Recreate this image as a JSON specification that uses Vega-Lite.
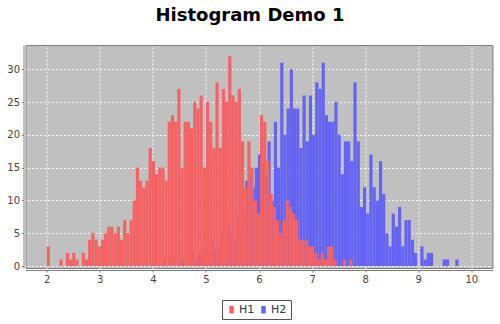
{
  "$schema": "https://vega.github.io/schema/vega-lite/v6.json",
  "width": 467,
  "height": 223,
  "autosize": {"type": "none"},
  "padding": {"left": 25.5, "top": 45, "right": 7.5, "bottom": 56},
  "background": "white",
  "title": {"text": "Histogram Demo 1", "font": "DejaVu Sans", "fontSize": 18, "fontWeight": "bold", "color": "black", "anchor": "middle", "dx": -9, "offset": 20},
  "config": {
    "view": {"fill": "#c0c0c0", "stroke": "#808080", "strokeWidth": 1},
    "axis": {"domainColor": "#808080", "tickColor": "#808080", "tickSize": 2, "labelColor": "#444444", "labelFont": "DejaVu Sans", "labelFontSize": 10, "gridColor": "#ffffff", "gridDash": [2, 2], "gridWidth": 1, "gridOpacity": 0.9, "title": null, "offset": 2, "labelPadding": 2}
  },
  "datasets": {
    "h1": [
      {"s":"H1","lo":2.00,"hi":2.06,"n":3},{"s":"H1","lo":2.24,"hi":2.30,"n":1},{"s":"H1","lo":2.36,"hi":2.42,"n":2},{"s":"H1","lo":2.42,"hi":2.48,"n":1},
      {"s":"H1","lo":2.48,"hi":2.54,"n":2},{"s":"H1","lo":2.54,"hi":2.60,"n":1},{"s":"H1","lo":2.66,"hi":2.72,"n":2},{"s":"H1","lo":2.72,"hi":2.78,"n":1},
      {"s":"H1","lo":2.78,"hi":2.84,"n":4},{"s":"H1","lo":2.84,"hi":2.90,"n":5},{"s":"H1","lo":2.90,"hi":2.96,"n":4},{"s":"H1","lo":2.96,"hi":3.02,"n":3},
      {"s":"H1","lo":3.02,"hi":3.08,"n":4},{"s":"H1","lo":3.08,"hi":3.14,"n":5},{"s":"H1","lo":3.14,"hi":3.20,"n":6},{"s":"H1","lo":3.20,"hi":3.26,"n":6},
      {"s":"H1","lo":3.26,"hi":3.32,"n":5},{"s":"H1","lo":3.32,"hi":3.38,"n":6},{"s":"H1","lo":3.38,"hi":3.44,"n":4},{"s":"H1","lo":3.44,"hi":3.50,"n":7},
      {"s":"H1","lo":3.50,"hi":3.56,"n":5},{"s":"H1","lo":3.56,"hi":3.62,"n":7},{"s":"H1","lo":3.62,"hi":3.68,"n":10},{"s":"H1","lo":3.68,"hi":3.74,"n":15},
      {"s":"H1","lo":3.74,"hi":3.80,"n":13},{"s":"H1","lo":3.80,"hi":3.86,"n":12},{"s":"H1","lo":3.86,"hi":3.92,"n":13},{"s":"H1","lo":3.92,"hi":3.98,"n":18},
      {"s":"H1","lo":3.98,"hi":4.04,"n":16},{"s":"H1","lo":4.04,"hi":4.10,"n":14},{"s":"H1","lo":4.10,"hi":4.16,"n":15},{"s":"H1","lo":4.16,"hi":4.22,"n":15},
      {"s":"H1","lo":4.22,"hi":4.28,"n":13},{"s":"H1","lo":4.28,"hi":4.34,"n":22},{"s":"H1","lo":4.34,"hi":4.40,"n":23},{"s":"H1","lo":4.40,"hi":4.46,"n":22},
      {"s":"H1","lo":4.46,"hi":4.52,"n":27},{"s":"H1","lo":4.52,"hi":4.58,"n":15},{"s":"H1","lo":4.58,"hi":4.64,"n":22},{"s":"H1","lo":4.64,"hi":4.70,"n":22},
      {"s":"H1","lo":4.70,"hi":4.76,"n":21},{"s":"H1","lo":4.76,"hi":4.82,"n":25},{"s":"H1","lo":4.82,"hi":4.88,"n":24},{"s":"H1","lo":4.88,"hi":4.94,"n":26},
      {"s":"H1","lo":4.94,"hi":5.00,"n":15},{"s":"H1","lo":5.00,"hi":5.06,"n":25},{"s":"H1","lo":5.06,"hi":5.12,"n":22},{"s":"H1","lo":5.12,"hi":5.18,"n":18},
      {"s":"H1","lo":5.18,"hi":5.24,"n":28},{"s":"H1","lo":5.24,"hi":5.30,"n":18},{"s":"H1","lo":5.30,"hi":5.36,"n":27},{"s":"H1","lo":5.36,"hi":5.42,"n":25},
      {"s":"H1","lo":5.42,"hi":5.48,"n":32},{"s":"H1","lo":5.48,"hi":5.54,"n":26},{"s":"H1","lo":5.54,"hi":5.60,"n":25},{"s":"H1","lo":5.60,"hi":5.66,"n":27},
      {"s":"H1","lo":5.66,"hi":5.72,"n":19},{"s":"H1","lo":5.72,"hi":5.78,"n":12},{"s":"H1","lo":5.78,"hi":5.84,"n":19},{"s":"H1","lo":5.84,"hi":5.90,"n":15},
      {"s":"H1","lo":5.90,"hi":5.96,"n":10},{"s":"H1","lo":5.96,"hi":6.02,"n":8},{"s":"H1","lo":6.02,"hi":6.08,"n":23},{"s":"H1","lo":6.08,"hi":6.14,"n":22},
      {"s":"H1","lo":6.14,"hi":6.20,"n":16},{"s":"H1","lo":6.20,"hi":6.26,"n":11},{"s":"H1","lo":6.26,"hi":6.32,"n":9},{"s":"H1","lo":6.32,"hi":6.38,"n":7},
      {"s":"H1","lo":6.38,"hi":6.44,"n":5},{"s":"H1","lo":6.44,"hi":6.50,"n":7},{"s":"H1","lo":6.50,"hi":6.56,"n":10},{"s":"H1","lo":6.56,"hi":6.62,"n":9},
      {"s":"H1","lo":6.62,"hi":6.68,"n":8},{"s":"H1","lo":6.68,"hi":6.74,"n":7},{"s":"H1","lo":6.74,"hi":6.80,"n":4},{"s":"H1","lo":6.80,"hi":6.86,"n":4},
      {"s":"H1","lo":6.86,"hi":6.92,"n":4},{"s":"H1","lo":6.92,"hi":6.98,"n":3},{"s":"H1","lo":6.98,"hi":7.04,"n":3},{"s":"H1","lo":7.04,"hi":7.10,"n":2},
      {"s":"H1","lo":7.10,"hi":7.16,"n":1},{"s":"H1","lo":7.16,"hi":7.22,"n":2},{"s":"H1","lo":7.22,"hi":7.28,"n":1},{"s":"H1","lo":7.28,"hi":7.34,"n":3},
      {"s":"H1","lo":7.34,"hi":7.40,"n":3},{"s":"H1","lo":7.40,"hi":7.46,"n":1},{"s":"H1","lo":7.58,"hi":7.64,"n":1},{"s":"H1","lo":7.70,"hi":7.76,"n":1}
    ],
    "h2": [
      {"s":"H2","lo":4.18,"hi":4.24,"n":1},{"s":"H2","lo":4.36,"hi":4.42,"n":1},{"s":"H2","lo":4.48,"hi":4.54,"n":1},{"s":"H2","lo":4.54,"hi":4.60,"n":1},
      {"s":"H2","lo":4.66,"hi":4.72,"n":1},{"s":"H2","lo":4.72,"hi":4.78,"n":2},{"s":"H2","lo":4.78,"hi":4.84,"n":1},{"s":"H2","lo":4.84,"hi":4.90,"n":2},
      {"s":"H2","lo":4.90,"hi":4.96,"n":2},{"s":"H2","lo":4.96,"hi":5.02,"n":3},{"s":"H2","lo":5.02,"hi":5.08,"n":2},{"s":"H2","lo":5.08,"hi":5.14,"n":4},
      {"s":"H2","lo":5.14,"hi":5.20,"n":3},{"s":"H2","lo":5.20,"hi":5.26,"n":3},{"s":"H2","lo":5.26,"hi":5.32,"n":5},{"s":"H2","lo":5.32,"hi":5.38,"n":4},
      {"s":"H2","lo":5.38,"hi":5.44,"n":6},{"s":"H2","lo":5.44,"hi":5.50,"n":5},{"s":"H2","lo":5.50,"hi":5.56,"n":4},{"s":"H2","lo":5.56,"hi":5.62,"n":7},
      {"s":"H2","lo":5.62,"hi":5.68,"n":6},{"s":"H2","lo":5.68,"hi":5.74,"n":8},{"s":"H2","lo":5.74,"hi":5.80,"n":13},{"s":"H2","lo":5.80,"hi":5.86,"n":14},
      {"s":"H2","lo":5.86,"hi":5.92,"n":12},{"s":"H2","lo":5.92,"hi":5.98,"n":15},{"s":"H2","lo":5.98,"hi":6.04,"n":17},{"s":"H2","lo":6.04,"hi":6.10,"n":16},
      {"s":"H2","lo":6.10,"hi":6.16,"n":14},{"s":"H2","lo":6.16,"hi":6.22,"n":19},{"s":"H2","lo":6.22,"hi":6.28,"n":10},{"s":"H2","lo":6.28,"hi":6.34,"n":22},
      {"s":"H2","lo":6.34,"hi":6.40,"n":15},{"s":"H2","lo":6.40,"hi":6.46,"n":31},{"s":"H2","lo":6.46,"hi":6.52,"n":20},{"s":"H2","lo":6.52,"hi":6.58,"n":24},
      {"s":"H2","lo":6.58,"hi":6.64,"n":30},{"s":"H2","lo":6.64,"hi":6.70,"n":24},{"s":"H2","lo":6.70,"hi":6.76,"n":24},{"s":"H2","lo":6.76,"hi":6.82,"n":18},
      {"s":"H2","lo":6.82,"hi":6.88,"n":26},{"s":"H2","lo":6.88,"hi":6.94,"n":19},{"s":"H2","lo":6.94,"hi":7.00,"n":26},{"s":"H2","lo":7.00,"hi":7.06,"n":20},
      {"s":"H2","lo":7.06,"hi":7.12,"n":28},{"s":"H2","lo":7.12,"hi":7.18,"n":27},{"s":"H2","lo":7.18,"hi":7.24,"n":31},{"s":"H2","lo":7.24,"hi":7.30,"n":23},
      {"s":"H2","lo":7.30,"hi":7.36,"n":22},{"s":"H2","lo":7.36,"hi":7.42,"n":22},{"s":"H2","lo":7.42,"hi":7.48,"n":25},{"s":"H2","lo":7.48,"hi":7.54,"n":20},
      {"s":"H2","lo":7.54,"hi":7.60,"n":14},{"s":"H2","lo":7.60,"hi":7.66,"n":19},{"s":"H2","lo":7.66,"hi":7.72,"n":19},{"s":"H2","lo":7.72,"hi":7.78,"n":16},
      {"s":"H2","lo":7.78,"hi":7.84,"n":28},{"s":"H2","lo":7.84,"hi":7.90,"n":19},{"s":"H2","lo":7.90,"hi":7.96,"n":9},{"s":"H2","lo":7.96,"hi":8.02,"n":12},
      {"s":"H2","lo":8.02,"hi":8.08,"n":8},{"s":"H2","lo":8.08,"hi":8.14,"n":17},{"s":"H2","lo":8.14,"hi":8.20,"n":12},{"s":"H2","lo":8.20,"hi":8.26,"n":10},
      {"s":"H2","lo":8.26,"hi":8.32,"n":16},{"s":"H2","lo":8.32,"hi":8.38,"n":11},{"s":"H2","lo":8.38,"hi":8.44,"n":5},{"s":"H2","lo":8.44,"hi":8.50,"n":3},
      {"s":"H2","lo":8.50,"hi":8.56,"n":8},{"s":"H2","lo":8.56,"hi":8.62,"n":6},{"s":"H2","lo":8.62,"hi":8.68,"n":9},{"s":"H2","lo":8.68,"hi":8.74,"n":3},
      {"s":"H2","lo":8.74,"hi":8.80,"n":7},{"s":"H2","lo":8.80,"hi":8.86,"n":7},{"s":"H2","lo":8.86,"hi":8.92,"n":4},{"s":"H2","lo":8.92,"hi":8.98,"n":2},
      {"s":"H2","lo":9.04,"hi":9.10,"n":3},{"s":"H2","lo":9.10,"hi":9.16,"n":1},{"s":"H2","lo":9.16,"hi":9.22,"n":2},{"s":"H2","lo":9.22,"hi":9.28,"n":2},
      {"s":"H2","lo":9.46,"hi":9.52,"n":1},{"s":"H2","lo":9.52,"hi":9.58,"n":1},{"s":"H2","lo":9.70,"hi":9.76,"n":1}
    ]
  },
  "encoding": {
    "x": {"field": "lo", "type": "quantitative", "scale": {"domain": [1.6, 10.4], "nice": false, "zero": false}, "axis": {"values": [2, 3, 4, 5, 6, 7, 8, 9, 10], "grid": true}},
    "x2": {"field": "hi"},
    "y": {"field": "n", "type": "quantitative", "stack": null, "scale": {"domain": [-0.3, 33.7], "nice": false, "zero": false}, "axis": {"values": [0, 5, 10, 15, 20, 25, 30], "grid": true}},
    "y2": {"datum": 0},
    "color": {"field": "s", "type": "nominal", "scale": {"domain": ["H1", "H2"], "range": ["#f46363", "#6363f4"]},
      "legend": {"title": null, "orient": "none", "legendX": 196.5, "legendY": 255, "direction": "horizontal", "columns": 2, "strokeColor": "#555555", "padding": 4, "symbolType": "M-0.6,-1H0.6V1H-0.6Z", "symbolSize": 56, "symbolOpacity": 1, "symbolStrokeWidth": 0, "labelFont": "DejaVu Sans", "labelFontSize": 11, "labelColor": "#333333", "labelOffset": 2, "columnPadding": 3}}
  },
  "layer": [
    {"data": {"name": "h2"}, "mark": {"type": "bar", "opacity": 1}},
    {"data": {"name": "h1"}, "mark": {"type": "bar", "opacity": 1}}
  ]
}
